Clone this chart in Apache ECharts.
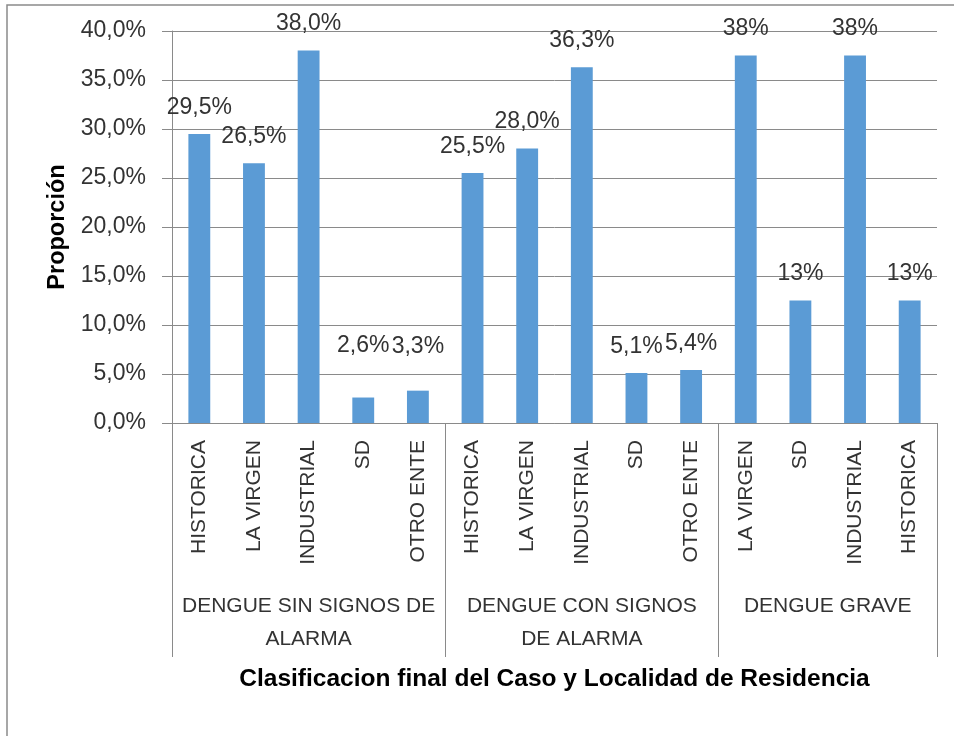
<!DOCTYPE html>
<html>
<head>
<meta charset="utf-8">
<script src="https://cdn.jsdelivr.net/npm/echarts@6/dist/echarts.min.js"></script>
<style>
	html, body { margin: 0; padding: 0; background: #fff; }
	#chart { width: 954px; height: 736px; }
</style>
</head>
<body>
<div id="chart"></div>
<script>
// localidades (nivel interno del eje x)
var categories = ['HISTORICA', 'LA VIRGEN', 'INDUSTRIAL', 'SD', 'OTRO ENTE',
	'HISTORICA', 'LA VIRGEN', 'INDUSTRIAL', 'SD', 'OTRO ENTE',
	'LA VIRGEN', 'SD', 'INDUSTRIAL', 'HISTORICA']
// clasificacion final (nivel externo)
var groups = ['DENGUE SIN SIGNOS DE\nALARMA', 'DENGUE CON SIGNOS\nDE ALARMA', 'DENGUE GRAVE']
var groupSizes = [5, 5, 4]
// proporcion en %
var values = [29.5, 26.5, 38.0, 2.6, 3.3, 25.5, 28.0, 36.3, 5.1, 5.4, 37.5, 12.5, 37.5, 12.5]
var valueLabels = ['29,5%', '26,5%', '38,0%', '2,6%', '3,3%', '25,5%', '28,0%', '36,3%', '5,1%', '5,4%',
	'38%', '13%', '38%', '13%']

var gray = '#8a8a8a'
var txt = '#333'

// limites y centros de cada grupo
var bounds = [0], centers = []
groupSizes.forEach(function(n, i) {
	var a = bounds[bounds.length-1]
	centers.push(a + n/2)
	bounds.push(a + n)
})

// etiquetas movidas a mano en el original
var labelDist = { 3: 40, 4: 33 }

var barData = values.map(function(v, i) {
	var item = { value: v }
	if (labelDist[i] != null) item.label = { distance: labelDist[i] }
	return item
})

var chart = echarts.init(document.getElementById('chart'))
chart.setOption({
	animation: false,
	backgroundColor: '#fff',
	grid: { left: 172, right: 17, top: 31, bottom: 313, outerBoundsMode: 'none' },
	graphic: [{
		type: 'rect',
		shape: { x: 7, y: 5, width: 1000, height: 800 },
		style: { fill: 'none', stroke: gray, lineWidth: 1.5 },
		silent: true
	}],
	xAxis: [{
		type: 'category',
		data: categories,
		position: 'bottom',
		axisLine: { lineStyle: { color: gray } },
		axisTick: { interval: 0, length: 150, lineStyle: { color: gray } },
		axisLabel: {
			interval: 0, rotate: 90, margin: 17,
			fontFamily: 'Liberation Sans', fontSize: 21, color: txt
		}
	}, {
		type: 'value',
		min: 0,
		max: categories.length,
		position: 'bottom',
		axisLine: { show: false },
		splitLine: { show: false },
		axisTick: { customValues: bounds, length: 234, lineStyle: { color: gray } },
		axisLabel: {
			customValues: centers,
			margin: 167,
			lineHeight: 33,
			verticalAlign: 'top',
			fontFamily: 'Liberation Sans', fontSize: 21, color: txt,
			formatter: function(v) {
				var i = centers.indexOf(v)
				return i < 0 ? '' : groups[i]
			}
		},
		name: 'Clasificacion final del Caso y Localidad de Residencia',
		nameLocation: 'middle',
		nameGap: 244,
		nameTextStyle: {
			fontFamily: 'Liberation Sans', fontSize: 24.5, fontWeight: 'bold', color: '#000',
			verticalAlign: 'top'
		}
	}],
	yAxis: {
		type: 'value',
		min: 0,
		max: 40,
		interval: 5,
		name: 'Proporción',
		nameLocation: 'middle',
		nameGap: 102,
		nameTextStyle: { fontFamily: 'Liberation Sans', fontSize: 23.5, fontWeight: 'bold', color: '#000' },
		axisLine: { show: true, lineStyle: { color: gray } },
		axisTick: { show: true, length: 10, lineStyle: { color: gray } },
		splitLine: { lineStyle: { color: gray } },
		axisLabel: {
			margin: 26,
			fontFamily: 'Liberation Sans', fontSize: 23, color: txt,
			formatter: function(v) { return v.toFixed(1).replace('.', ',') + '%' }
		}
	},
	series: [{
		type: 'bar',
		xAxisIndex: 0,
		barWidth: '40%',
		itemStyle: { color: '#5B9BD5' },
		label: {
			show: true,
			position: 'top',
			distance: 15,
			fontFamily: 'Liberation Sans', fontSize: 23, color: txt,
			formatter: function(p) { return valueLabels[p.dataIndex] }
		},
		data: barData
	}]
})
</script>
</body>
</html>
